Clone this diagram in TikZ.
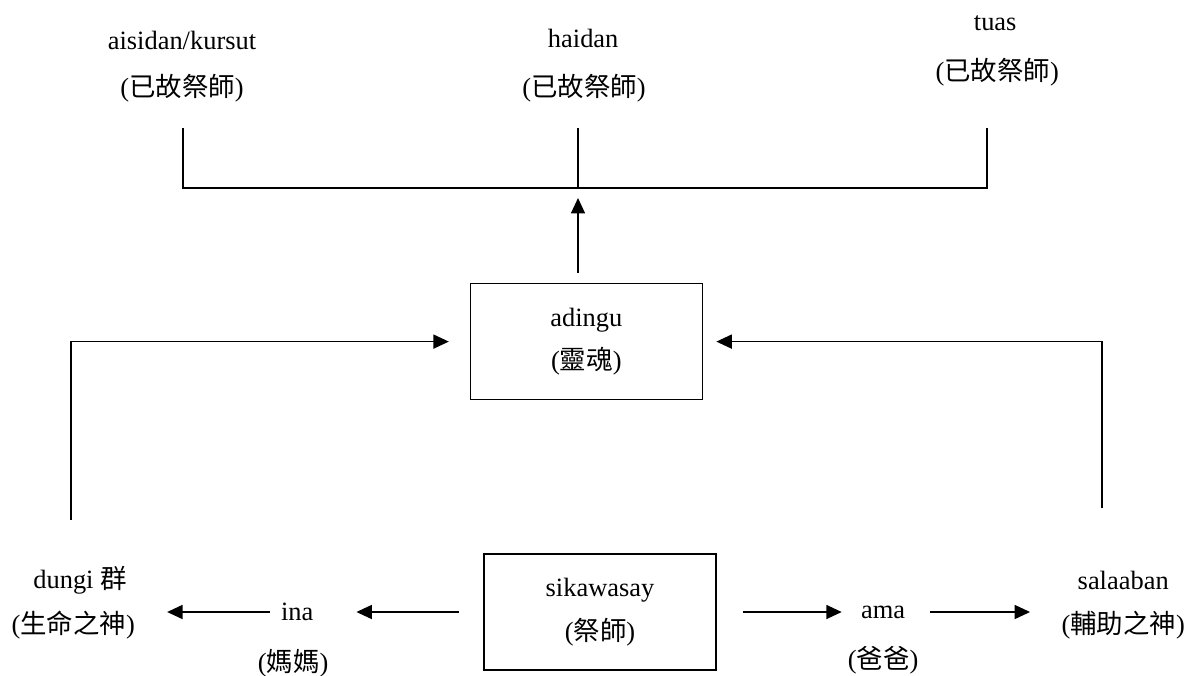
\documentclass[tikz,border=0pt]{standalone}
\usepackage{fontspec}
\setmainfont{Liberation Serif}
\newfontfamily\cjk{Noto Sans CJK TC}
\usetikzlibrary{arrows.meta}
\tikzset{%
  lbl/.style={inner sep=0pt,font=\fontsize{18.8}{22}\selectfont},
  gbox/.style={draw,line width=1.1pt,minimum width=5.8cm,minimum height=2.9cm,align=center,font=\fontsize{18.8}{22}\selectfont},
  dline/.style={line width=1.1pt},
  darrow/.style={dline,-{Triangle[length=11pt,width=10pt]}}
}
\begin{document}
\begin{tikzpicture}
    \useasboundingbox (0,0) rectangle (29.7,-16.875);
    % deceased priests
    \path
      (4.55,-1.0) node[lbl] (aisidan) {aisidan/kursut} (4.55,-2.2) node[lbl] (aisidang) {({\cjk 已故祭師})}
      (14.58,-0.95) node[lbl] (haidan) {haidan} (14.6,-2.2) node[lbl] (haidang) {({\cjk 已故祭師})}
      (24.88,-0.58) node[lbl] (tuas) {tuas} (24.93,-1.8) node[lbl] (tuasg) {({\cjk 已故祭師})};
    % bottom row
    \path
      (2.0,-14.5) node[lbl] (dungi) {dungi {\cjk 群}} (1.83,-15.63) node[lbl] (dungig) {({\cjk 生命之神})}
      (7.43,-15.3) node[lbl] (ina) {ina} (7.33,-16.58) node[lbl] (inag) {({\cjk 媽媽})}
      (22.08,-15.3) node[lbl] (ama) {ama} (22.08,-16.5) node[lbl] (amag) {({\cjk 爸爸})}
      (28.08,-14.5) node[lbl] (salaaban) {salaaban} (28.08,-15.63) node[lbl] (salaabang) {({\cjk 輔助之神})};
    \node[gbox] (adingu) at (14.66,-8.54) {adingu\\[9pt]({\cjk 靈魂})};
    \node[gbox] (sikawasay) at (15.0,-15.3) {sikawasay\\[9pt]({\cjk 祭師})};
    \coordinate (ta) at (4.575,-3.2);
    \coordinate (tb) at (14.45,-3.2);
    \coordinate (tc) at (24.675,-3.2);
    \coordinate (j) at (14.45,-4.7);
    \coordinate (up) at (14.45,-6.83);
    \coordinate (lft) at (1.78,-13.0);
    \coordinate (rgt) at (27.55,-12.7);
    \draw[dline] (ta) |- (j) -| (tc);
    \draw[dline] (tb) -- (j);
    \draw[darrow,shorten >=0.25cm] (up) -- (j);
    \draw[darrow,shorten >=0.52cm] (lft) |- (adingu.west);
    \draw[darrow,shorten >=0.33cm] (rgt) |- (adingu.east);
    % priest to mother and father
    \draw[darrow,shorten <=0.6cm,shorten >=1.07cm] (sikawasay.west) -- (ina.east);
    \draw[darrow,shorten <=0.28cm,shorten >=0.8cm] (ina.west) -- (ina.west -| dungig.east);
    \draw[darrow,shorten <=0.65cm,shorten >=0.48cm] (sikawasay.east) -- (ama.west);
    \draw[darrow,shorten <=0.62cm,shorten >=0.78cm] (ama.east) -- (ama.east -| salaabang.west);
\end{tikzpicture}
\end{document}
